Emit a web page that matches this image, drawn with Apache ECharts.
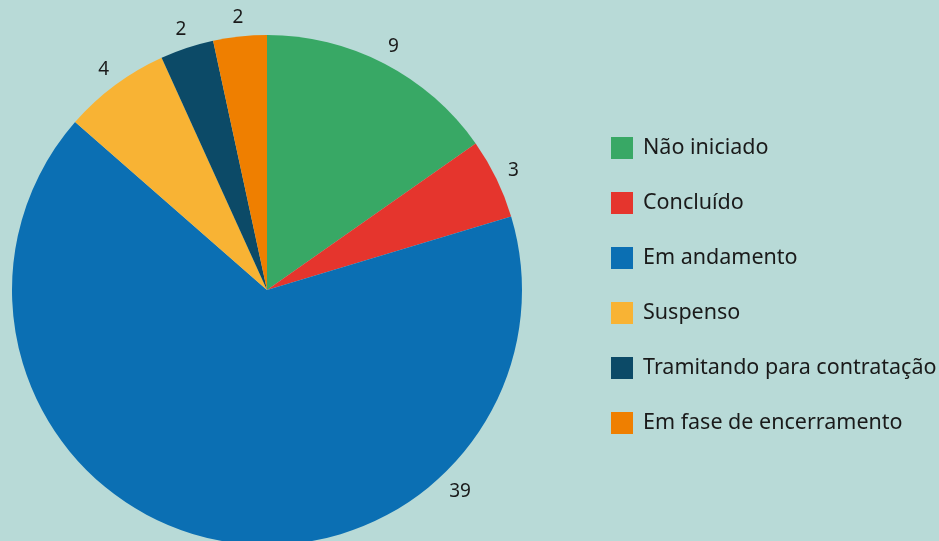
<!DOCTYPE html>
<html>
<head>
<meta charset="utf-8">
<script src="https://cdn.jsdelivr.net/npm/echarts@6/dist/echarts.min.js"></script>
<style>
  html, body { margin: 0; padding: 0; background: #b8dad7; }
  #chart { width: 939px; height: 541px; }
</style>
</head>
<body>
<div id="chart"></div>
<script>
// situação dos projetos
const categorias = ['Não iniciado', 'Concluído', 'Em andamento', 'Suspenso', 'Tramitando para contratação', 'Em fase de encerramento']
const valores = [9, 3, 39, 4, 2, 2]
const cores = ['#38a865', '#e5352d', '#0b6fb3', '#f8b334', '#0c4a67', '#ef7f00']

const chart = echarts.init(document.getElementById('chart'))

const option = {
    backgroundColor: '#b8dad7',
    color: cores,
    textStyle: { fontFamily: 'Noto Sans' },
    legend: {
        orient: 'vertical',
        left: 606,
        top: 132,
        itemWidth: 22,
        itemHeight: 22,
        itemGap: 33,
        icon: 'rect',
        data: categorias,
        textStyle: { fontSize: 21.5, color: '#1a1a1a', padding: [0, 0, 0, 5] }
    },
    series: [{
        type: 'pie',
        center: [267, 290],
        radius: 255,
        startAngle: 90,
        clockwise: true,
        silent: true,
        avoidLabelOverlap: false,
        data: categorias.map((c, i) => ({ name: c, value: valores[i] })),
        label: {
            show: true,
            position: 'outside',
            formatter: '{c}',
            fontSize: 19,
            color: '#1a1a1a',
            distanceToLabelLine: 0
        },
        labelLine: { show: false, length: 19, length2: 0 },
        labelLayout: function (params) {
            // o rótulo do 39 fica no canto inferior direito
            if (params.dataIndex === 2) {
                return { x: 460, y: 492, align: 'center', verticalAlign: 'middle' }
            }
            return { align: 'center', verticalAlign: 'middle' }
        }
    }]
}

chart.setOption(option)
</script>
</body>
</html>
